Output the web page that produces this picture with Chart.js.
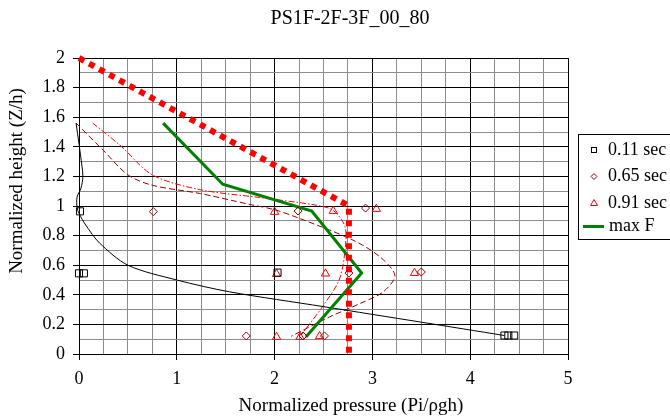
<!DOCTYPE html>
<html>
<head>
<meta charset="utf-8">
<title>PS1F-2F-3F_00_80</title>
<script src="https://cdn.jsdelivr.net/npm/chart.js@4.4.1/dist/chart.umd.min.js"></script>
<style>
    html, body { margin: 0; padding: 0; background: #fff; }
    #wrap { width: 670px; height: 419px; }
</style>
</head>
<body>
<div id="wrap"><canvas id="pressureChart" width="670" height="419"></canvas></div>
<script>
// ---- Data ----
const chartTitle = 'PS1F-2F-3F_00_80';
const xTitle = 'Normalized pressure (Pi/ρgh)';
const yTitle = 'Normalized height (Z/h)';
const seriesNames = ['0.11 sec', '0.65 sec', '0.91 sec', 'max F'];

const xTickLabels = ['0', '1', '2', '3', '4', '5'];
const yTickLabels = ['0', '0.2', '0.4', '0.6', '0.8', '1', '1.2', '1.4', '1.6', '1.8', '2'];

// measured points
const sec011X = [0.01, 0.0, 0.05, 2.03, 4.35, 4.39, 4.45];
const sec011Y = [0.964, 0.545, 0.545, 0.55, 0.125, 0.125, 0.125];
const sec065X = [0.76, 2.24, 2.93, 2.76, 3.50, 1.71, 2.29, 2.51];
const sec065Y = [0.962, 0.966, 0.986, 0.547, 0.554, 0.122, 0.122, 0.122];
const sec091X = [2.0, 2.6, 3.04, 2.02, 2.52, 3.43, 2.02, 2.26, 2.46];
const sec091Y = [0.96, 0.966, 0.98, 0.54, 0.543, 0.547, 0.115, 0.115, 0.12];

// fitted profiles
const fit011X = [-0.03, 0.0, 0.03, 0.04, 0.02, -0.02, -0.02, 0.0, 0.07, 0.21, 0.5, 1.0, 1.54, 2.5, 3.5, 4.35];
const fit011Y = [1.56, 1.42, 1.27, 1.2, 1.12, 1.06, 0.99, 0.95, 0.87, 0.75, 0.6, 0.5, 0.42, 0.32, 0.215, 0.125];
const fit065X = [-0.03, 0.25, 0.5, 0.75, 1.24, 1.75, 2.0, 2.24, 2.8, 3.08, 3.23, 3.11, 2.87, 2.56, 2.17];
const fit065Y = [1.56, 1.375, 1.21, 1.14, 1.084, 1.01, 0.975, 0.92, 0.77, 0.655, 0.53, 0.42, 0.34, 0.25, 0.12];
const fit091X = [0.14, 0.42, 0.75, 1.24, 1.85, 2.43, 2.6, 2.72, 2.72, 2.66, 2.49, 2.36, 2.27];
const fit091Y = [1.56, 1.41, 1.21, 1.11, 1.057, 1.005, 0.97, 0.86, 0.7, 0.5, 0.32, 0.205, 0.126];

const maxFX = [0.86, 1.47, 2.38, 2.89, 2.32];
const maxFY = [1.56, 1.147, 0.966, 0.547, 0.115];

const limitX = [0, 2.76, 2.76];
const limitY = [2, 1.0, 0];

// ---- Helpers ----
const pts = (xs, ys) => xs.map((x, i) => ({ x, y: ys[i] }));
const near = (a, b) => Math.abs(a - b) < 1e-6;
const labelFor = (v, labels) => labels.find(l => near(Number(l), v)) || '';

function gridValues(max, step) {
    const out = [];
    for (let i = 0; i * step <= max + 1e-9; i++) out.push(+(i * step).toFixed(4));
    return out;
}
const xGrid = gridValues(5, 0.25);
const yGrid = gridValues(2, 0.1);

const FONT = "'Liberation Serif', 'Times New Roman', serif";

// ---- Titles + legend drawn over the chart ----
const extras = {
    id: 'extras',
    afterDraw(chart) {
        const ctx = chart.ctx;
        ctx.save();
        ctx.fillStyle = '#000';
        ctx.textAlign = 'center';
        ctx.textBaseline = 'middle';
        ctx.font = `20px ${FONT}`;
        ctx.fillText(chartTitle, 350, 19);
        ctx.font = `19px ${FONT}`;
        ctx.fillText(xTitle, 351, 406);

        ctx.save();
        ctx.translate(17, 181);
        ctx.rotate(-Math.PI / 2);
        ctx.fillText(yTitle, 0, 0);
        ctx.restore();

        // legend box
        ctx.strokeStyle = '#000';
        ctx.lineWidth = 1;
        ctx.strokeRect(578.5, 134.5, 120, 105);

        const rows = [150, 176.5, 203, 226.5];
        const mx = 594;

        // square
        ctx.strokeStyle = '#000';
        ctx.strokeRect(mx - 2.5, rows[0] - 2.5, 5, 5);
        // diamond
        ctx.strokeStyle = '#990000';
        ctx.beginPath();
        ctx.moveTo(mx, rows[1] - 3);
        ctx.lineTo(mx + 3, rows[1]);
        ctx.lineTo(mx, rows[1] + 3);
        ctx.lineTo(mx - 3, rows[1]);
        ctx.closePath();
        ctx.stroke();
        // triangle
        ctx.strokeStyle = '#ff0000';
        ctx.beginPath();
        ctx.moveTo(mx, rows[2] - 3.5);
        ctx.lineTo(mx + 3.5, rows[2] + 2.5);
        ctx.lineTo(mx - 3.5, rows[2] + 2.5);
        ctx.closePath();
        ctx.stroke();
        // green line
        ctx.strokeStyle = '#008000';
        ctx.lineWidth = 3;
        ctx.beginPath();
        ctx.moveTo(583, rows[3]);
        ctx.lineTo(604, rows[3]);
        ctx.stroke();

        ctx.font = `18px ${FONT}`;
        ctx.textAlign = 'left';
        seriesNames.forEach((name, i) => ctx.fillText(name, i === 3 ? 609 : 608, rows[i]));
        ctx.restore();
    }
};

// ---- Chart ----
const markerBase = {
    showLine: false,
    pointBorderWidth: 1,
    pointBackgroundColor: 'rgba(0,0,0,0)',
    clip: false
};
const curveBase = {
    showLine: true,
    pointRadius: 0,
    borderWidth: 1,
    fill: false,
    tension: 0.3,
    clip: false
};

new Chart(document.getElementById('pressureChart'), {
    type: 'scatter',
    data: {
        datasets: [
            { ...markerBase, label: seriesNames[0], data: pts(sec011X, sec011Y),
              pointStyle: 'rect', pointRadius: 5, pointBorderColor: '#000' },
            { ...markerBase, label: seriesNames[1], data: pts(sec065X, sec065Y),
              pointStyle: 'rectRot', pointRadius: 4, pointBorderColor: '#990000' },
            { ...markerBase, label: seriesNames[2], data: pts(sec091X, sec091Y),
              pointStyle: 'triangle', pointRadius: 4.8, pointBorderColor: '#ff0000' },
            { ...curveBase, label: 'limit', data: pts(limitX, limitY),
              borderColor: '#ff0000', borderWidth: 6, borderDash: [6, 5.5], borderCapStyle: 'butt', tension: 0 },
            { ...curveBase, label: seriesNames[3], data: pts(maxFX, maxFY),
              borderColor: '#008000', borderWidth: 3, tension: 0 },
            { ...curveBase, label: 'fit 0.11', data: pts(fit011X, fit011Y), borderColor: '#000' },
            { ...curveBase, label: 'fit 0.65', data: pts(fit065X, fit065Y),
              borderColor: '#990000', borderDash: [6, 3] },
            { ...curveBase, label: 'fit 0.91', data: pts(fit091X, fit091Y),
              borderColor: '#ff0000', borderDash: [6, 2, 1.5, 2] }
        ]
    },
    options: {
        responsive: false,
        devicePixelRatio: 1,
        animation: false,
        events: [],
        layout: { padding: { top: 58, right: 102, bottom: 0, left: 0 } },
        plugins: {
            legend: { display: false },
            title: { display: false },
            tooltip: { enabled: false }
        },
        scales: {
            x: {
                type: 'linear',
                min: 0,
                max: 5,
                afterBuildTicks: s => { s.ticks = xGrid.map(v => ({ value: v })); },
                afterFit: s => { s.height = 65; },
                ticks: {
                    autoSkip: false,
                    maxRotation: 0,
                    padding: 8,
                    color: '#000',
                    font: { family: FONT, size: 18 },
                    callback: v => labelFor(v, xTickLabels)
                },
                grid: {
                    lineWidth: 1,
                    tickLength: 6,
                    color: c => labelFor(c.tick.value, xTickLabels) ? '#000' : '#8c8c8c',
                    tickColor: c => labelFor(c.tick.value, xTickLabels) ? '#000' : 'rgba(0,0,0,0)'
                },
                border: { color: '#000', width: 1 }
            },
            y: {
                type: 'linear',
                min: 0,
                max: 2,
                afterBuildTicks: s => { s.ticks = yGrid.map(v => ({ value: v })); },
                afterFit: s => { s.width = 79; },
                ticks: {
                    autoSkip: false,
                    padding: 8,
                    color: '#000',
                    font: { family: FONT, size: 18 },
                    callback: v => labelFor(v, yTickLabels)
                },
                grid: {
                    lineWidth: 1,
                    tickLength: 6,
                    color: c => labelFor(c.tick.value, yTickLabels) ? '#000' : '#8c8c8c',
                    tickColor: c => labelFor(c.tick.value, yTickLabels) ? '#000' : 'rgba(0,0,0,0)'
                },
                border: { color: '#000', width: 1 }
            }
        }
    },
    plugins: [extras]
});
</script>
</body>
</html>
